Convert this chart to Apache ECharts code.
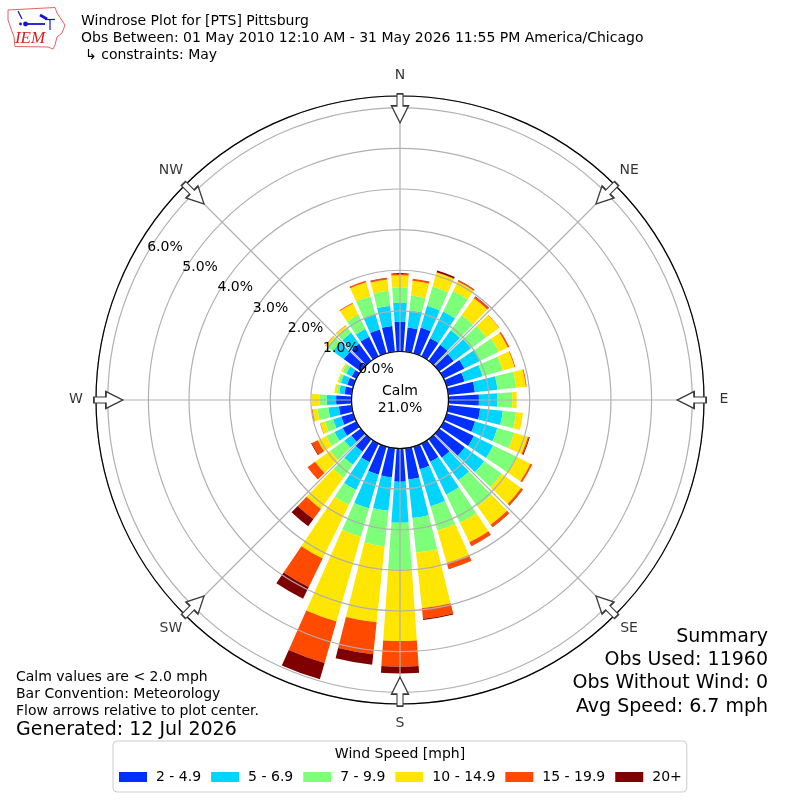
<!DOCTYPE html>
<html><head><meta charset="utf-8">
<style>html,body{margin:0;padding:0;background:#fff}#c{width:800px;height:800px}</style>
<script src="https://cdn.jsdelivr.net/npm/echarts@6/dist/echarts.min.js"></script>
</head><body><div id="c"></div>
<script>
const directions = ['0','10','20','30','40','50','60','70','80','90','100','110','120','130','140','150','160','170','180','190','200','210','220','230','240','250','260','270','280','290','300','310','320','330','340','350'];
const speed2to5 = [.73,.60,.66,.50,.49,.44,.57,.46,.66,.75,.79,.73,.83,.78,.56,.50,.58,.77,.82,.72,.72,.51,.38,.29,.38,.31,.32,.38,.18,.16,.13,.52,.52,.54,.61,.64];
const speed5to7 = [.47,.43,.56,.73,.44,.53,.42,.46,.56,.46,.56,.57,.53,.59,.69,.90,.95,.96,1.01,.83,.86,.76,.40,.21,.22,.21,.26,.23,.13,.16,.15,.33,.33,.21,.40,.50];
const speed7to10 = [.38,.36,.49,.56,.46,.46,.52,.52,.46,.36,.33,.43,.64,.53,.80,.77,.62,.86,1.16,.88,.73,.41,.39,.43,.23,.21,.27,.17,.06,.06,.10,.17,.17,.39,.45,.37];
const speed10to15 = [.30,.37,.36,.26,.51,.39,.25,.30,.24,.11,.17,.35,.38,.59,.55,.53,.83,1.37,1.75,1.88,2.17,1.47,.95,.46,.23,.12,.12,.20,.06,.03,.04,.05,.05,.31,.36,.28];
const speed15to20 = [.05,.05,.01,.03,.05,.01,.04,.02,.02,0,0,.03,.05,.05,.07,.10,.15,.26,.63,.79,1.06,.78,.31,.23,.16,.01,.02,0,0,0,0,.01,.01,.02,.04,.03];
const speed20plus = [0,0,.04,.01,.01,0,0,0,0,0,0,.02,0,.01,.01,.01,.01,.03,.17,.26,.42,.32,.22,0,.02,0,0,0,0,0,0,0,0,0,0,.01];
const speedNames = ['2 - 4.9','5 - 6.9','7 - 9.9','10 - 14.9','15 - 19.9','20+'];
const speedColors = ['#0030ff','#00d4ff','#7dff7a','#ffe600','#ff4a00','#7f0000'];
const compass = ['N','NE','E','SE','S','SW','W','NW'];
const arrowAngles = [0,45,90,135,180,225,270,315];
const arrowRadius = 5.985;
const rMax = 6.29;
const FONT = 'DejaVu Sans';

const seriesValues = [speed2to5,speed5to7,speed7to10,speed10to15,speed15to20,speed20plus];
const hiddenAxisParts = {axisLine:{show:false},axisTick:{show:false},axisLabel:{show:false},splitLine:{show:false}};
const txt = (x,y,text,size,extra={}) => ({type:'text',x,y,z:20,style:Object.assign({text,fill:'#000',font:`${size}px "${FONT}"`,textAlign:'left',textVerticalAlign:'middle'},extra)});
const line = (points,color,w) => ({type:'polyline',z:20,shape:{points},style:{stroke:color,lineWidth:w,fill:'none'}});

const chart = echarts.init(document.getElementById('c'),null,{renderer:'canvas',width:800,height:800});
chart.setOption({
  animation:false,
  backgroundColor:'#fff',
  textStyle:{fontFamily:FONT},
  polar:[
    {center:[400,400],radius:[48.5,304]},
    {center:[400,400],radius:[48.5,304]},
    {center:[418,393.25],radius:[48.5,304]},
    {center:[400,399],radius:[0,324]}
  ],
  angleAxis:[
    Object.assign({polarIndex:0,type:'category',data:directions,startAngle:95,clockwise:true,boundaryGap:true},hiddenAxisParts),
    {polarIndex:1,type:'value',min:0,max:360,interval:45,startAngle:90,clockwise:true,z:5,
      axisLine:{show:true,lineStyle:{color:'#000',width:1.2}},axisTick:{show:false},axisLabel:{show:false},
      splitLine:{show:true,lineStyle:{color:'#b0b0b0',width:1.2}}},
    Object.assign({polarIndex:2,type:'value',min:0,max:360,startAngle:150,clockwise:true},hiddenAxisParts),
    Object.assign({polarIndex:3,type:'value',min:0,max:360,startAngle:90,clockwise:true},hiddenAxisParts)
  ],
  radiusAxis:[
    Object.assign({polarIndex:0,type:'value',min:0,max:rMax},hiddenAxisParts),
    {polarIndex:1,type:'value',min:0,max:rMax,interval:1,z:5,axisLine:{show:false},axisTick:{show:false},axisLabel:{show:false},
      splitLine:{show:true,showMinLine:false,showMaxLine:false,lineStyle:{color:'#b0b0b0',width:1.2}}},
    {polarIndex:2,type:'value',min:0,max:rMax,interval:1,z:7,axisLine:{show:false},axisTick:{show:false},splitLine:{show:false},
      axisLabel:{show:true,margin:0,align:'center',verticalAlign:'middle',rotate:0,fontSize:14,color:'#000',fontFamily:FONT,
        formatter:v=>Number.isInteger(v)?v.toFixed(1)+'%':''}},
    Object.assign({polarIndex:3,type:'value',min:0,max:1},hiddenAxisParts)
  ],
  legend:{left:113,top:741,orient:'horizontal',padding:[29,5,8,6],itemWidth:28,itemHeight:10,itemGap:10,icon:'rect',
    borderColor:'#cccccc',borderWidth:1,borderRadius:4,backgroundColor:'#fff',
    textStyle:{fontSize:14,color:'#000',fontFamily:FONT,padding:[0,0,0,4]},data:speedNames},
  series:[
    ...seriesValues.map((values,i)=>({type:'bar',name:speedNames[i],coordinateSystem:'polar',polarIndex:0,stack:'wind',
      barWidth:'80%',data:values,itemStyle:{color:speedColors[i]},z:2,silent:true})),
    {type:'scatter',coordinateSystem:'polar',polarIndex:1,z:6,silent:true,
      data:arrowAngles.map(a=>[arrowRadius,a]),
      symbol:'path://M5.5 0 L11.5 0 L11.5 12 L17 12 L8.5 29 L0 12 L5.5 12 Z',
      symbolSize:[17,29],symbolRotate:(v)=>-v[1],
      itemStyle:{color:'#fff',borderColor:'#3a3a3a',borderWidth:1.4,opacity:1}},
    {type:'scatter',coordinateSystem:'polar',polarIndex:3,z:6,silent:true,
      data:arrowAngles.map((a,i)=>({value:[1,a],label:{formatter:compass[i]}})),
      symbolSize:1,itemStyle:{color:'rgba(255,255,255,0)'},
      label:{show:true,position:'inside',align:'center',verticalAlign:'middle',fontSize:14,color:'#000',fontFamily:FONT}}
  ],
  graphic:[
    txt(81,21,'Windrose Plot for [PTS] Pittsburg',14),
    txt(81,38,'Obs Between: 01 May 2010 12:10 AM - 31 May 2026 11:55 PM America/Chicago',14),
    txt(85,55,'↳ constraints: May',14),
    txt(400,391,'Calm',14,{textAlign:'center'}),
    txt(400,408,'21.0%',14,{textAlign:'center'}),
    txt(16,677,'Calm values are < 2.0 mph',14),
    txt(16,694,'Bar Convention: Meteorology',14),
    txt(16,711,'Flow arrows relative to plot center.',14),
    txt(16,730,'Generated: 12 Jul 2026',19),
    txt(768,637,'Summary',19,{textAlign:'right'}),
    txt(768,660,'Obs Used: 11960',19,{textAlign:'right'}),
    txt(768,683,'Obs Without Wind: 0',19,{textAlign:'right'}),
    txt(768,707,'Avg Speed: 6.7 mph',19,{textAlign:'right'}),
    txt(400,754,'Wind Speed [mph]',14,{textAlign:'center'}),
    line([[8,10],[55,7.5],[57,13],[65,25],[62,33],[57,37],[55,45],[53,49],[48,47],[15,46.5],[14,37],[8,20],[8,10]],'#e05050',0.9),
    line([[27,24],[45,24]],'#1414d8',1.8),
    line([[40,15],[47,19]],'#1414d8',2.8),
    line([[45,19.5],[55,19.5]],'#1414d8',1.2),
    line([[50,19.5],[50,30]],'#1414d8',1.2),
    line([[18,11],[22,19]],'#1414d8',1.2),
    {type:'circle',z:20,shape:{cx:25.5,cy:24,r:2.4},style:{fill:'#1414d8'}},
    {type:'circle',z:20,shape:{cx:20.5,cy:24,r:1.4},style:{fill:'#1414d8'}},
    txt(30,39,'IEM',17,{textAlign:'center',fill:'#d82020',font:'italic 17px "Liberation Serif"'})
  ]
});
</script></body></html>
